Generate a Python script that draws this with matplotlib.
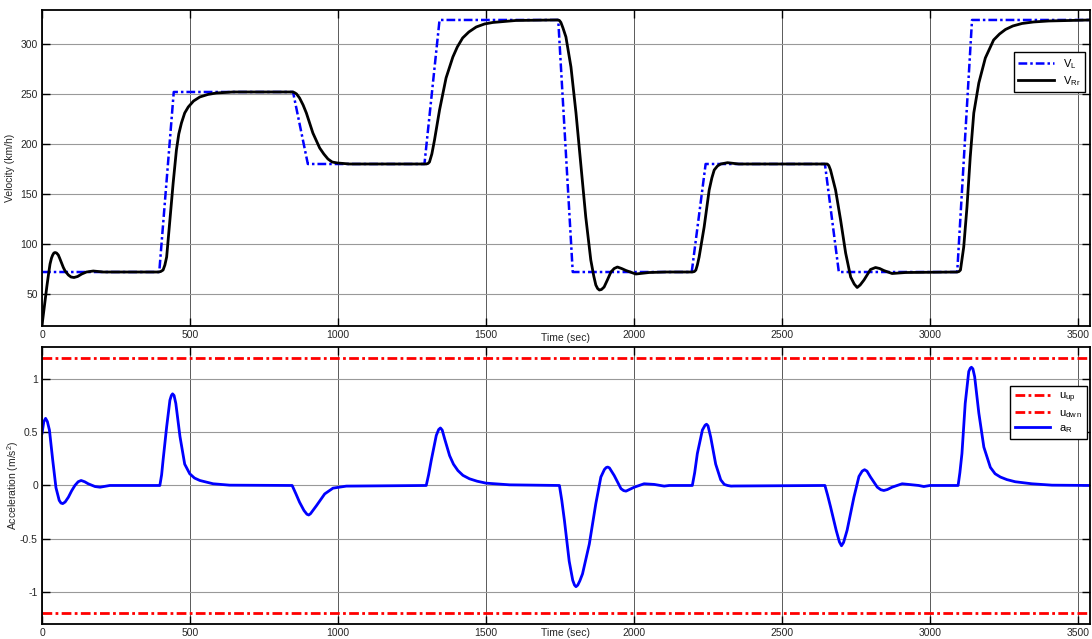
import numpy as np
import matplotlib.pyplot as plt

plt.rcParams['font.family'] = ['Liberation Sans', 'DejaVu Sans']

# ----------------------------
# Datos
# ----------------------------
# referencia V_L [km/h] (tramos lineales)
t_ref = [0, 396, 445, 848, 898, 1292, 1343, 1744, 1793, 2195, 2242,
         2645, 2692, 3092, 3142, 3545]
v_ref = [72, 72, 252, 252, 180, 180, 324, 324, 72, 72, 180,
         180, 72, 72, 324, 324]

# velocidad del tren V_Rr [km/h]
t_vr = [0, 8, 16, 22, 27, 32, 36, 40, 44, 49, 55, 60, 66, 72, 78, 89, 98,
        108, 120, 134, 150, 173, 190, 207, 260, 393,
        401, 409, 415, 421, 432, 443, 454, 462, 471, 482, 494, 512, 533, 560,
        589, 646, 848,
        855, 860, 870, 882, 893, 915, 938, 952, 966, 980, 998, 1039, 1298,
        1304, 1309, 1317, 1326, 1343, 1365, 1388, 1403, 1421, 1442, 1467,
        1495, 1523, 1601, 1742,
        1748, 1753, 1760, 1770, 1787, 1804, 1821, 1837, 1854, 1864, 1871,
        1877, 1883, 1890, 1899, 1910, 1922, 1933, 1944, 1958, 1973, 2006,
        2051, 2108, 2197,
        2204, 2209, 2214, 2220, 2237, 2254, 2263, 2271, 2282, 2293, 2316,
        2354, 2653,
        2658, 2664, 2681, 2698, 2715, 2732, 2744, 2754, 2764, 2777, 2799,
        2816, 2830, 2844, 2872, 2917, 3092,
        3098, 3103, 3114, 3125, 3136, 3148, 3165, 3187, 3215, 3235, 3255,
        3280, 3311, 3350, 3401, 3545]
v_vr = [19, 38, 57, 70, 80, 86, 89, 91, 91.5, 91, 89, 85.5, 81, 76.5, 73,
        69, 67, 66.5, 67.5, 70, 72, 73, 72.5, 72, 72, 72,
        72.5, 74, 79, 87, 124, 161, 194, 210, 221, 231, 237, 243, 247, 249.5,
        251, 252, 252,
        251, 250, 246, 239, 231, 211, 196, 190, 185, 182, 181, 180, 180,
        180.5, 182, 190, 204, 234, 266, 287, 297, 306, 312, 317,
        320, 321.5, 323.5, 324,
        323.5, 321.5, 316, 307, 277, 231, 177, 127, 84, 68, 59,
        55.5, 54, 54.5, 57, 64, 72, 75.5, 77, 75.5, 73.5, 70,
        71.5, 72, 72,
        72.5, 74, 79, 87, 117, 154, 166, 174, 178, 180, 181.3,
        180, 180,
        178.5, 174, 154, 124, 91, 67, 60, 56.5, 59, 64, 74.5,
        76.5, 75.5, 73.5, 70.5, 71.5, 72,
        72.5, 74, 97, 137, 187, 231, 261, 286, 304, 310, 314.5,
        318, 320.5, 322, 323, 324]

# aceleracion a_R [m/s^2]
t_acc = [0, 6, 12, 18, 25, 36, 47, 58, 64, 70, 78, 89, 100, 111, 122, 132,
         144, 156, 179, 196, 212, 229,
         398, 404, 409, 421, 432, 437, 441, 446, 452, 466, 482, 499, 515,
         533, 578, 634, 845,
         858, 870, 885, 895, 901, 907, 927, 955, 983, 1028, 1298,
         1306, 1315, 1332, 1340, 1346, 1352, 1360, 1377, 1390, 1405, 1422,
         1444, 1470, 1500, 1580, 1748,
         1756, 1765, 1781, 1793, 1799, 1804, 1810, 1817, 1826, 1849, 1871,
         1888, 1900, 1906, 1911, 1917, 1933, 1956, 1965, 1973,
         2001, 2034, 2068, 2102, 2119, 2197,
         2205, 2214, 2231, 2240, 2245, 2250, 2259, 2276, 2293, 2305, 2316,
         2328, 2338, 2645,
         2654, 2664, 2683, 2694, 2701, 2708, 2720, 2743, 2760, 2771, 2779,
         2787, 2799, 2822, 2834, 2844, 2856, 2872,
         2906, 2928, 2962, 2979, 3000, 3095,
         3101, 3108, 3119, 3131, 3136, 3140, 3145, 3151, 3165, 3182, 3204,
         3220, 3238, 3260, 3288, 3344, 3412, 3545]
a_acc = [0.49, 0.6, 0.63, 0.6, 0.52, 0.24, -0.02, -0.14, -0.165, -0.17,
         -0.155, -0.11, -0.05, 0.0, 0.035, 0.047, 0.035, 0.016, -0.01, -0.016,
         -0.008, 0.0,
         0.0, 0.1, 0.24, 0.55, 0.80, 0.845, 0.86, 0.845, 0.77, 0.46, 0.20,
         0.11, 0.07, 0.047, 0.016, 0.003, 0.0,
         -0.08, -0.157, -0.235, -0.27, -0.277, -0.265, -0.19, -0.079, -0.025,
         -0.006, 0.0,
         0.1, 0.236, 0.47, 0.525, 0.54, 0.52, 0.44, 0.28, 0.2, 0.14, 0.095,
         0.063, 0.04, 0.022, 0.006, 0.0,
         -0.14, -0.33, -0.71, -0.89, -0.935, -0.95, -0.935, -0.895, -0.83,
         -0.55, -0.17,
         0.079, 0.15, 0.168, 0.173, 0.165, 0.094, -0.03, -0.048, -0.053,
         -0.016, 0.016, 0.01, -0.006, 0.0, 0.0,
         0.12, 0.30, 0.52, 0.565, 0.575, 0.56, 0.456, 0.20, 0.053, 0.01, 0.0,
         -0.006, -0.005, 0.0,
         -0.09, -0.20, -0.42, -0.53, -0.566, -0.535, -0.42, -0.11, 0.085,
         0.135, 0.148, 0.135, 0.079, -0.016, -0.04, -0.047, -0.038, -0.016,
         0.016, 0.01, 0.0, -0.01, 0.0, 0.0,
         0.12, 0.30, 0.77, 1.07, 1.10, 1.11, 1.095, 1.02, 0.68, 0.36, 0.17,
         0.11, 0.079, 0.055, 0.035, 0.016, 0.003, 0.0]

U_UP = 1.2
U_DWN = -1.2

X_MAX = 3540
DASHDOT = (0, (3.5, 1.2, 1.0, 1.2))


def style_axes(ax):
    ax.set_xlim(0, X_MAX)
    ax.set_xticks([0, 500, 1000, 1500, 2000, 2500, 3000, 3500])
    ax.xaxis.grid(True, color='0.35', linewidth=0.7)
    ax.yaxis.grid(True, color='0.6', linewidth=0.8)
    ax.tick_params(direction='in', length=6, width=1.0, top=True, right=True,
                   labelsize=7.5, labelcolor='0.15', pad=3)
    for sp in ax.spines.values():
        sp.set_linewidth(1.3)


def main() -> None:
    fig = plt.figure(figsize=(10.92, 6.39), dpi=100)
    ax1 = fig.add_axes([0.0385, 0.4898, 0.9595, 0.4946])
    ax2 = fig.add_axes([0.0385, 0.0235, 0.9595, 0.4335])

    # --- velocidad ---
    ax1.plot(t_ref, v_ref, color='#0000ff', lw=1.8, linestyle=DASHDOT,
             label=r'$\mathregular{V_L}$')
    ax1.plot(t_vr, v_vr, color='k', lw=2.0, label=r'$\mathregular{V_{Rr}}$')
    style_axes(ax1)
    ax1.set_ylim(18, 334)
    ax1.set_yticks([50, 100, 150, 200, 250, 300])
    ax1.set_ylabel('Velocity (km/h)', fontsize=7.5, color='0.15')
    ax1.yaxis.set_label_coords(-0.0258, 0.5)
    ax1.set_xlabel('Time (sec)', fontsize=7.5, color='0.15', va='center')
    ax1.xaxis.set_label_coords(0.5, -0.037)
    leg1 = ax1.legend(loc='upper right', bbox_to_anchor=(0.995, 0.866),
                      fontsize=8, fancybox=False, framealpha=1, handlelength=3.2,
                      borderpad=0.4, labelspacing=0.3, borderaxespad=0)
    leg1.get_frame().set_edgecolor('k')
    leg1.get_frame().set_linewidth(1.0)

    # --- aceleracion ---
    ax2.axhline(U_UP, color='red', lw=2.0, linestyle=DASHDOT,
                label=r'$\mathregular{u_{up}}$')
    ax2.axhline(U_DWN, color='red', lw=2.0, linestyle=DASHDOT,
                label=r'$\mathregular{u_{dw\,n}}$')
    ax2.plot(t_acc, a_acc, color='#0000ff', lw=2.0, label=r'$\mathregular{a_R}$')
    style_axes(ax2)
    ax2.set_ylim(-1.3, 1.3)
    ax2.set_yticks([-1, -0.5, 0, 0.5, 1])
    ax2.set_yticklabels(['-1', '-0.5', '0', '0.5', '1'])
    ax2.set_ylabel(r'Acceleration (m/s$^\mathregular{2}$)', fontsize=7.5, color='0.15')
    ax2.yaxis.set_label_coords(-0.0203, 0.5)
    ax2.set_xlabel('Time (sec)', fontsize=7.5, color='0.15', va='center')
    ax2.xaxis.set_label_coords(0.5, -0.033)
    leg2 = ax2.legend(loc='upper right', bbox_to_anchor=(0.997, 0.86),
                      fontsize=8, fancybox=False, framealpha=1, handlelength=3.2,
                      borderpad=0.4, labelspacing=0.3, borderaxespad=0)
    leg2.get_frame().set_edgecolor('k')
    leg2.get_frame().set_linewidth(1.0)

    fig.savefig('out.png', dpi=100)


if __name__ == "__main__":
    main()
